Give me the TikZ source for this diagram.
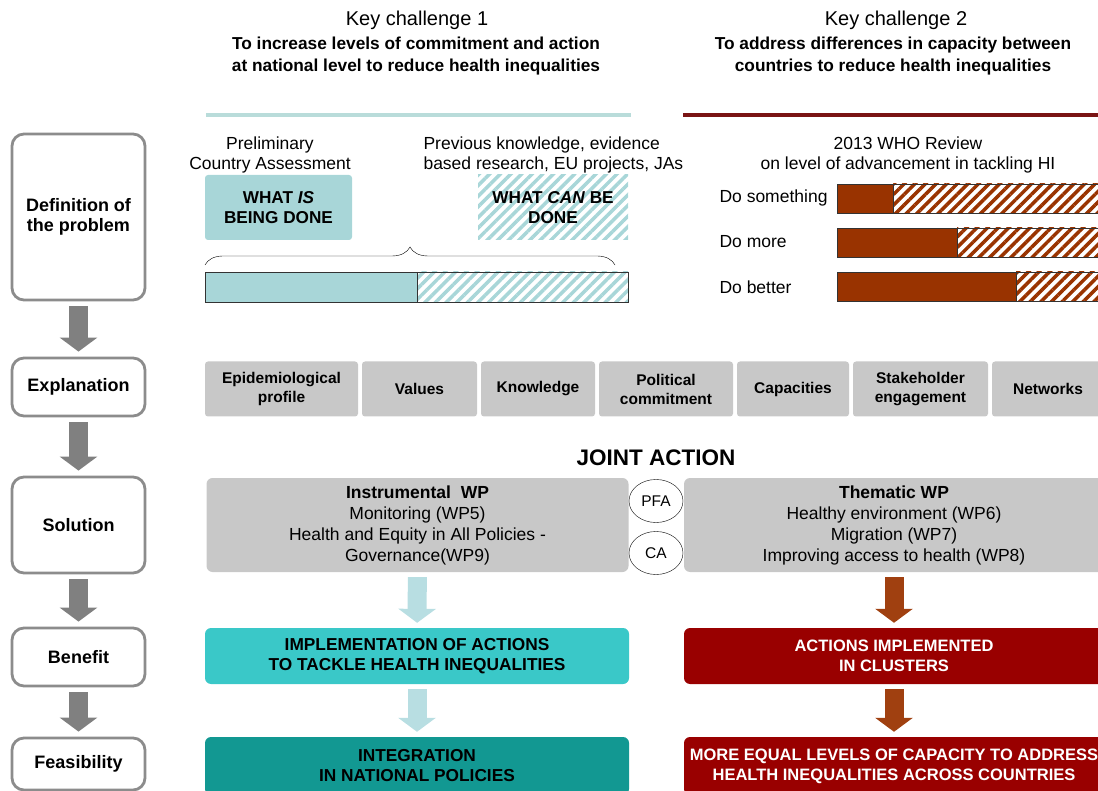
\documentclass[tikz,border=0pt]{standalone}
\usepackage{fontspec}
\setmainfont{Liberation Sans}
\usetikzlibrary{arrows.meta,patterns.meta,decorations.pathreplacing,shapes.geometric}

\definecolor{framegray}{RGB}{140,140,140}
\definecolor{arrowgray}{RGB}{128,128,128}
\definecolor{boxgray}{RGB}{200,200,200}
\definecolor{paleteal}{RGB}{168,214,216}
\definecolor{arrowteal}{RGB}{184,222,226}
\definecolor{lineteal}{RGB}{185,220,218}
\definecolor{turquoise}{RGB}{58,200,200}
\definecolor{deepteal}{RGB}{18,152,146}
\definecolor{darkred}{RGB}{153,0,0}
\definecolor{linered}{RGB}{122,20,20}
\definecolor{rust}{RGB}{153,51,0}
\definecolor{arrowrust}{RGB}{160,64,16}

\begin{document}
\begin{tikzpicture}[x=1pt,y=-1pt,
  stage/.style={draw=framegray, line width=2.8pt, rounded corners=12pt, fill=white,
    minimum width=133pt, inner sep=0pt, align=center,
    font=\fontsize{18}{20}\selectfont\bfseries},
  fatarrow/.style={line width=19pt, -{Triangle[width=37pt,length=14pt]},
    shorten <=5pt, shorten >=5pt},
  factor/.style={fill=boxgray, rounded corners=3pt, minimum height=55pt, inner sep=0pt,
    align=center, font=\fontsize{15.5}{19}\selectfont\bfseries},
  wpbox/.style={fill=boxgray, rounded corners=6pt, minimum height=94pt, inner sep=0pt,
    align=center, font=\fontsize{17.5}{21}\selectfont},
  outcome/.style={rounded corners=6pt, inner sep=0pt, align=center,
    font=\fontsize{16.5}{20}\selectfont\bfseries},
  partner/.style={draw, ellipse, minimum width=54pt, minimum height=43pt, inner sep=0pt,
    font=\fontsize{15.5}{17}\selectfont},
  plain/.style={align=center, font=\fontsize{17.5}{20}\selectfont},
  hatch/.style={pattern={Lines[angle=45,distance=7.5pt,line width=3.5pt]}}
]
\useasboundingbox (0,0) rectangle (1098,791);

% key challenges
\node[font=\fontsize{20}{22}\selectfont] (kcone) at (417,20) {Key challenge 1};
\node[align=center, font=\fontsize{17.3}{22}\selectfont\bfseries] (aimone) at (416,56)
  {To increase levels of commitment and action\\at national level to reduce health inequalities};
\node[font=\fontsize{20}{22}\selectfont] (kctwo) at (896,20) {Key challenge 2};
\node[align=center, font=\fontsize{17.3}{22}\selectfont\bfseries] (aimtwo) at (893,56)
  {To address differences in capacity between\\countries to reduce health inequalities};
\draw[lineteal, line width=3.5pt] (206,115) -- (631,115);
\draw[linered, line width=3.5pt] (683,115) -- (1100,115);

% left column
\node[stage, minimum height=166pt] (def) at (78.5,217) {Definition of\\the problem};
\node[stage, minimum height=58pt] (expl) at (78.5,387) {Explanation};
\node[stage, minimum height=96pt] (sol) at (78.5,525) {Solution};
\node[stage, minimum height=58pt] (ben) at (78.5,657) {Benefit};
\node[stage, minimum height=52pt] (feas) at (78.5,764) {Feasibility};
\draw[fatarrow, arrowgray] (def) -- (expl);
\draw[fatarrow, arrowgray] (expl) -- (sol);
\draw[fatarrow, arrowgray] (sol) -- (ben);
\draw[fatarrow, arrowgray] (ben) -- (feas);

% definition of the problem, challenge 1
\node[plain] (prelim) at (270,155) {Preliminary\\Country Assessment};
\node[anchor=west, align=left, font=\fontsize{17.5}{20}\selectfont] (prev) at (420,155)
  {Previous knowledge, evidence\\based research, EU projects, JAs};
\node[fill=paleteal, rounded corners=3pt, minimum width=147pt, minimum height=65pt,
  inner sep=0pt, align=center, font=\fontsize{17.2}{20}\selectfont\bfseries] (whatis)
  at (278.5,207.5) {WHAT \textit{IS}\\BEING DONE};
\node[hatch, pattern color=paleteal, minimum width=150pt, minimum height=65pt,
  inner sep=0pt, align=center, font=\fontsize{17.2}{20}\selectfont\bfseries] (whatcan)
  at (553,207.5) {WHAT \textit{CAN} BE\\DONE};
\draw[decorate, decoration={brace, amplitude=18pt}] (205,265) -- (615,265);
\fill[paleteal] (205,272) rectangle (417,302);
\fill[hatch, pattern color=paleteal] (417,272) rectangle (628,302);
\draw[black!80] (205,272) rectangle (628,302) (417,272) -- (417,302);

% definition of the problem, challenge 2
\node[plain] (who) at (908,155) {2013 WHO Review\\on level of advancement in tackling HI};
\node[anchor=west, font=\fontsize{17.5}{20}\selectfont] (dosome) at (716,198) {Do something};
\node[anchor=west, font=\fontsize{17.5}{20}\selectfont] (domore) at (716,242) {Do more};
\node[anchor=west, font=\fontsize{17.5}{20}\selectfont] (dobetter) at (716,287) {Do better};
\fill[rust] (837,184) rectangle (893,213);
\fill[hatch, pattern color=rust] (893,184) rectangle (1100,213);
\draw[black!80] (837,184) rectangle (1100,213) (893,184) -- (893,213);
\fill[rust] (837,228) rectangle (957,257);
\fill[hatch, pattern color=rust] (957,228) rectangle (1100,257);
\draw[black!80] (837,228) rectangle (1100,257) (957,228) -- (957,257);
\fill[rust] (837,272) rectangle (1016,301);
\fill[hatch, pattern color=rust] (1016,272) rectangle (1100,301);
\draw[black!80] (837,272) rectangle (1100,301) (1016,272) -- (1016,301);

% explanation
\node[factor, minimum width=153pt] (epi) at (281.5,389) {Epidemiological\\profile};
\node[factor, minimum width=115pt] (val) at (419.5,389) {Values};
\node[factor, minimum width=114pt] (know) at (538,389) {Knowledge};
\node[factor, minimum width=134pt] (polit) at (666,389) {Political\\commitment};
\node[factor, minimum width=112pt] (capa) at (793,389) {Capacities};
\node[factor, minimum width=135pt] (stake) at (920.5,389) {Stakeholder\\engagement};
\node[factor, minimum width=112pt] (netw) at (1048,389) {Networks};

% solution
\node[font=\fontsize{22.5}{24}\selectfont\bfseries] (joint) at (656,458) {JOINT ACTION};
\node[wpbox, minimum width=422pt] (instr) at (417.5,525)
  {\textbf{Instrumental~~WP}\\Monitoring (WP5)\\Health and Equity in All Policies -\\Governance(WP9)};
\node[wpbox, minimum width=420pt] (them) at (894,525)
  {\textbf{Thematic WP}\\Healthy environment (WP6)\\Migration (WP7)\\Improving access to health (WP8)};
\node[partner] (pfa) at (656,501) {PFA};
\node[partner] (ca) at (656,553) {CA};

% benefit and feasibility
\node[outcome, fill=turquoise, minimum width=424pt, minimum height=56pt,
  font=\fontsize{17.3}{20}\selectfont\bfseries] (impl) at (417,656)
  {IMPLEMENTATION OF ACTIONS\\TO TACKLE HEALTH INEQUALITIES};
\node[outcome, fill=darkred, text=white, minimum width=420pt, minimum height=56pt] (clus)
  at (894,656) {ACTIONS IMPLEMENTED\\IN CLUSTERS};
\node[outcome, fill=deepteal, minimum width=424pt, minimum height=58pt,
  font=\fontsize{17.3}{20}\selectfont\bfseries] (integ) at (417,766)
  {INTEGRATION\\IN NATIONAL POLICIES};
\node[outcome, fill=darkred, text=white, minimum width=420pt, minimum height=58pt] (equal)
  at (894,766) {MORE EQUAL LEVELS OF CAPACITY TO ADDRESS\\HEALTH INEQUALITIES ACROSS COUNTRIES};
\draw[fatarrow, arrowteal] (instr) -- (impl);
\draw[fatarrow, arrowteal] (impl) -- (integ);
\draw[fatarrow, arrowrust] (them) -- (clus);
\draw[fatarrow, arrowrust] (clus) -- (equal);

\end{tikzpicture}
\end{document}
